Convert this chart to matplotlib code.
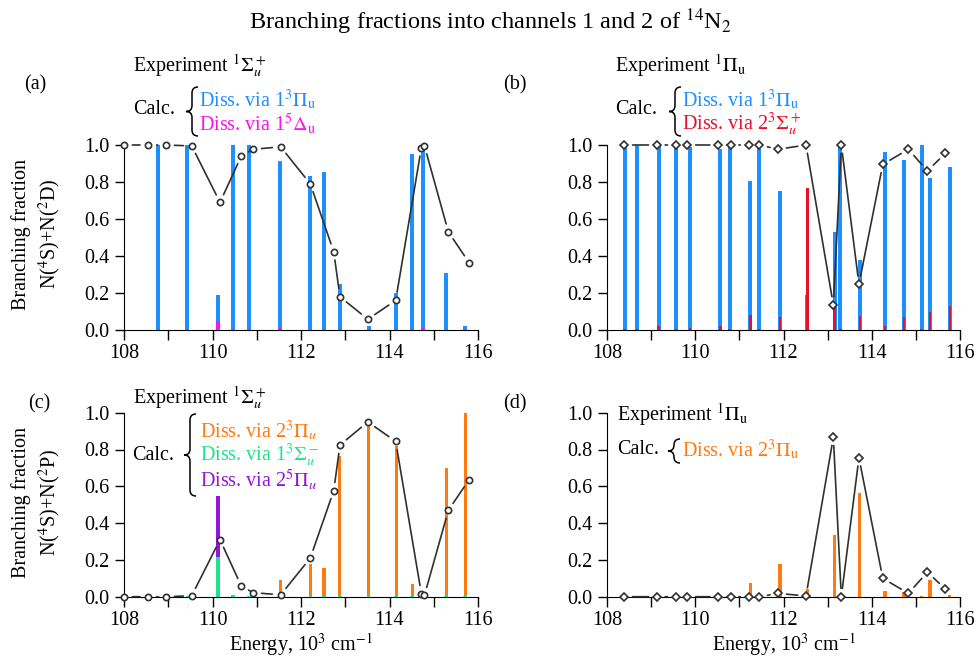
import matplotlib
matplotlib.use('Agg')
import matplotlib.pyplot as plt
from matplotlib.path import Path
from matplotlib.patches import PathPatch
from matplotlib.transforms import Affine2D
from matplotlib.ticker import MultipleLocator, FormatStrFormatter

plt.rcParams['font.family'] = ['Liberation Serif', 'DejaVu Serif']
plt.rcParams['mathtext.fontset'] = 'stix'

W, H = 976, 662

# Sigma_u^+ states: calculated energies (10^3 cm-1) and fractions
E_sig = [108.77, 109.43, 110.12, 110.46, 110.83, 111.53, 112.21, 112.52,
         112.88, 113.53, 114.15, 114.51, 114.76, 115.28, 115.71]
blue_a = [1.0, 1.0, 0.19, 1.0, 1.0, 0.913, 0.83, 0.855, 0.25, 0.02, 0.2,
          0.95, 1.0, 0.31, 0.02]
magenta_a = [0.004, 0.004, 0.05, 0.004, 0.004, 0.01, 0.005, 0.005, 0.005,
             0.005, 0.005, 0.005, 0.01, 0.004, 0.004]
orange_c = [0.003, 0.003, 0.0, 0.003, 0.005, 0.09, 0.178, 0.155, 0.767,
            0.95, 0.818, 0.067, 0.003, 0.70, 1.0]
green_c = [0.005, 0.005, 0.218, 0.01, 0.005, 0.002, 0.002, 0.002, 0.003,
           0.003, 0.003, 0.002, 0.002, 0.002, 0.002]
purple_c = [0.0, 0.0, 0.545, 0.0, 0.0, 0.0, 0.0, 0.0, 0.0, 0.0, 0.0, 0.0,
            0.0, 0.0, 0.0]

# Sigma_u^+ experiment
Ex_sig = [108.0, 108.55, 108.95, 109.53, 110.17, 110.65, 110.92, 111.54,
          112.21, 112.74, 112.88, 113.51, 114.14, 114.72, 114.79, 115.33, 115.80]
exp_a = [1.0, 1.0, 1.0, 0.995, 0.69, 0.94, 0.977, 0.99, 0.79, 0.423, 0.18,
         0.058, 0.16, 0.985, 0.996, 0.53, 0.364]
exp_c = [0.0, 0.0, 0.0, 0.005, 0.31, 0.058, 0.022, 0.01, 0.21, 0.576, 0.824,
         0.95, 0.844, 0.016, 0.007, 0.47, 0.636]

# Pi_u states: calculated
E_pi = [108.40, 108.68, 109.17, 109.56, 109.88, 110.57, 110.78, 111.25,
        111.44, 111.92, 112.54, 113.16, 113.29, 113.73, 114.30, 114.73,
        115.13, 115.32, 115.77]
blue_b = [1.0, 1.0, 1.0, 1.0, 0.99, 0.98, 1.0, 0.805, 1.0, 0.75, 0.19, 0.528,
          1.0, 0.378, 0.96, 0.92, 1.0, 0.82, 0.88]
red_b = [0.003, 0.006, 0.02, 0.003, 0.01, 0.02, 0.003, 0.08, 0.003, 0.07,
         0.766, 0.126, 0.003, 0.075, 0.02, 0.07, 0.003, 0.10, 0.13]
orange_d = [0.002, 0.004, 0.002, 0.002, 0.002, 0.002, 0.002, 0.076, 0.002,
            0.178, 0.04, 0.336, 0.002, 0.564, 0.033, 0.027, 0.005, 0.09, 0.008]

# Pi_u experiment
Ex_pi = [108.39, 109.13, 109.56, 109.82, 110.52, 110.80, 111.21, 111.45,
         111.88, 112.51, 113.13, 113.31, 113.71, 114.25, 114.83, 115.26, 115.67]
exp_b = [1.0, 1.0, 1.0, 1.0, 1.0, 1.0, 1.0, 1.0, 0.977, 1.0, 0.135, 1.0,
         0.247, 0.895, 0.977, 0.86, 0.955]
exp_d = [0.0, 0.0, 0.0, 0.0, 0.0, 0.0, 0.0, 0.0, 0.018, 0.004, 0.867, 0.0,
         0.755, 0.10, 0.018, 0.133, 0.042]

BLUE = '#1e8fff'
MAGENTA = '#ff10f0'
RED = '#e8102a'
ORANGE = '#ff7a10'
GREEN = '#1ee38c'
PURPLE = '#9414d8'
LINE = '#303030'

fig = plt.figure(figsize=(W / 100, H / 100), dpi=100)
pix = Affine2D().scale(1.0 / W, -1.0 / H).translate(0, 1) + fig.transFigure


def fr(x0, y0, x1, y1):
    return [x0 / W, 1 - y1 / H, (x1 - x0) / W, (y1 - y0) / H]


def txt(x, y, s, **kw):
    kw.setdefault('fontsize', 14.5)
    kw.setdefault('va', 'center')
    fig.text(x / W, 1 - y / H, s, **kw)


def brace(xv, y0, y1, w=6, d=6):
    ym = 0.5 * (y0 + y1)
    verts = [(xv + w, y0), (xv, y0), (xv, y0 + w),
             (xv, ym - w), (xv, ym), (xv - d, ym),
             (xv, ym), (xv, ym + w),
             (xv, y1 - w), (xv, y1), (xv + w, y1)]
    codes = [Path.MOVETO, Path.CURVE3, Path.CURVE3,
             Path.LINETO, Path.CURVE3, Path.CURVE3,
             Path.CURVE3, Path.CURVE3,
             Path.LINETO, Path.CURVE3, Path.CURVE3]
    fig.patches.append(PathPatch(Path(verts, codes), transform=pix,
                                 fill=False, lw=1.1, ec='black'))


def setup(ax):
    ax.set_xlim(108, 116)
    ax.set_ylim(0, 1.0)
    ax.spines['top'].set_visible(False)
    ax.spines['right'].set_visible(False)
    ax.xaxis.set_major_locator(MultipleLocator(2))
    ax.xaxis.set_minor_locator(MultipleLocator(1))
    ax.yaxis.set_major_locator(MultipleLocator(0.2))
    ax.yaxis.set_major_formatter(FormatStrFormatter('%.1f'))
    ax.tick_params(axis='both', which='both', direction='out', labelsize=14.5,
                   width=1)
    ax.tick_params(axis='x', which='both', length=7, pad=3)
    ax.tick_params(axis='y', length=6.5, pad=4)


def experiment(ax, xs, ys, marker, ms):
    for i in range(len(xs) - 1):
        ax.annotate('', xy=(xs[i + 1], ys[i + 1]), xytext=(xs[i], ys[i]),
                    arrowprops=dict(arrowstyle='-', lw=1.2, color=LINE,
                                    shrinkA=6, shrinkB=6),
                    annotation_clip=False)
    ax.plot(xs, ys, ls='none', marker=marker, ms=ms, mfc='white',
            mec=LINE, mew=1.2, clip_on=False, zorder=5)


ax_a = fig.add_axes(fr(124, 145, 478, 330))
ax_b = fig.add_axes(fr(607, 145, 960, 330))
ax_c = fig.add_axes(fr(124, 412.7, 478, 596.7))
ax_d = fig.add_axes(fr(607, 412.7, 960, 596.7))
for ax in (ax_a, ax_b, ax_c, ax_d):
    setup(ax)

# (a)
ax_a.bar(E_sig, blue_a, width=0.09, color=BLUE, zorder=2)
ax_a.bar(E_sig, magenta_a, width=0.08, color=MAGENTA, zorder=3)
experiment(ax_a, Ex_sig, exp_a, 'o', 4.5)

# (b)
ax_b.bar(E_pi, blue_b, width=0.09, color=BLUE, zorder=2)
ax_b.bar(E_pi, red_b, width=0.055, color=RED, zorder=3)
experiment(ax_b, Ex_pi, exp_b, 'D', 4.2)

# (c)
ax_c.bar(E_sig, orange_c, width=0.07, color=ORANGE, zorder=2)
ax_c.bar(E_sig, purple_c, width=0.08, color=PURPLE, zorder=2)
ax_c.bar(E_sig, green_c, width=0.08, color=GREEN, zorder=3)
experiment(ax_c, Ex_sig, exp_c, 'o', 4.5)

# (d)
ax_d.bar(E_pi, orange_d, width=0.07, color=ORANGE, zorder=2)
experiment(ax_d, Ex_pi, exp_d, 'D', 4.2)

# Title and labels
txt(490, 22, r'Branching fractions into channels 1 and 2 of $^{14}$N$_2$',
    ha='center', fontsize=17.5)
txt(24, 85, '(a)')
txt(503, 85, '(b)')
txt(28, 404, '(c)')
txt(503, 404, '(d)')

txt(37, 234, 'Branching fraction\nN($^4$S)+N($^2$D)', ha='center',
    rotation=90, linespacing=1.3)
txt(37, 502, 'Branching fraction\nN($^4$S)+N($^2$P)', ha='center',
    rotation=90, linespacing=1.3)
txt(301, 645, r'Energy, 10$^3$ cm$^{-1}$', ha='center')
txt(784, 645, r'Energy, 10$^3$ cm$^{-1}$', ha='center')

# Annotations (a)
txt(133, 66, r'Experiment $^1\Sigma_u^+$')
txt(133, 110, 'Calc.')
brace(192, 87, 136)
txt(199, 100, r'Diss. via 1$^3\Pi_\mathrm{u}$', color=BLUE)
txt(199, 124, r'Diss. via 1$^5\Delta_\mathrm{u}$', color=MAGENTA)

# Annotations (b)
txt(615, 66, r'Experiment $^1\Pi_\mathrm{u}$')
txt(615, 110, 'Calc.')
brace(675, 87, 136)
txt(682, 100, r'Diss. via 1$^3\Pi_\mathrm{u}$', color=BLUE)
txt(682, 124, r'Diss. via 2$^3\Sigma_u^+$', color=RED)

# Annotations (c)
txt(133, 398, r'Experiment $^1\Sigma_u^+$')
txt(132, 455, 'Calc.')
brace(190, 414, 496)
txt(200, 431, r'Diss. via 2$^3\Pi_u$', color=ORANGE)
txt(200, 455, r'Diss. via 1$^3\Sigma_u^-$', color=GREEN)
txt(200, 480, r'Diss. via 2$^5\Pi_u$', color=PURPLE)

# Annotations (d)
txt(617, 415, r'Experiment $^1\Pi_\mathrm{u}$')
txt(617, 450, 'Calc.')
brace(674, 439, 463)
txt(682, 450, r'Diss. via 2$^3\Pi_\mathrm{u}$', color=ORANGE)

fig.savefig('out.png', dpi=100)
